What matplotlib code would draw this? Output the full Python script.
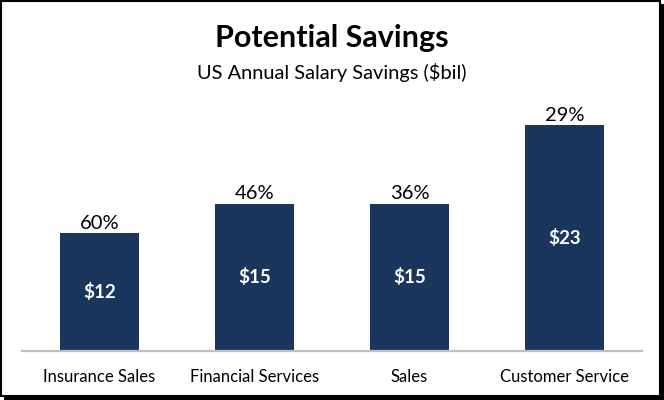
import matplotlib
matplotlib.use("Agg")
import matplotlib.pyplot as plt
from matplotlib.patches import Rectangle

categories = ["Insurance Sales", "Financial Services", "Sales", "Customer Service"]
savings = [12, 15, 15, 23]
pct_labels = ["60%", "46%", "36%", "29%"]
value_labels = ["$12", "$15", "$15", "$23"]

FONT = "Lato"
BAR = "#1B365D"

W, H = 664, 400
fig = plt.figure(figsize=(W / 100, H / 100), dpi=100)
fig.patch.set_facecolor("white")

ax = fig.add_axes([22 / W, (H - 351) / H, 620 / W, 251 / H])
x = list(range(len(categories)))
bars = ax.bar(x, savings, width=0.51, color=BAR, zorder=2)
ax.set_xlim(-0.5, 3.5)
ax.set_ylim(0, 251 / 9.82)

for s in ["top", "right", "left"]:
    ax.spines[s].set_visible(False)
ax.spines["bottom"].set_color("#BFBFBF")
ax.spines["bottom"].set_linewidth(1.6)
ax.set_yticks([])
ax.set_xticks(x)
ax.set_xticklabels(categories, fontfamily=FONT, fontsize=12, color="black")
ax.tick_params(axis="x", length=0, pad=13)

for xi, v, p, vl in zip(x, savings, pct_labels, value_labels):
    ax.annotate(p, (xi, v), xytext=(0, 1), textcoords="offset points",
                ha="center", va="bottom", fontfamily=FONT, fontsize=14.5, color="black")
    ax.text(xi, v / 2, vl, ha="center", va="center", fontfamily=FONT,
            fontsize=13.5, fontweight="bold", color="white")

fig.text(0.5, 1 - 38 / H, "Potential Savings", ha="center", va="center",
         fontfamily=FONT, fontsize=22, fontweight="bold", color="black")
fig.text(0.5, 1 - 72 / H, "US Annual Salary Savings ($bil)", ha="center", va="center",
         fontfamily=FONT, fontsize=14.4, color="black")

# border with shadow
fig.patches.append(Rectangle((1 / W, 4 / H), (W - 5) / W, (H - 5) / H, transform=fig.transFigure,
                             fill=False, edgecolor="black", linewidth=1.5))
fig.patches.append(Rectangle((4 / W, 0), (W - 4) / W, 3 / H, transform=fig.transFigure,
                             facecolor="black", edgecolor="none"))
fig.patches.append(Rectangle(((W - 4) / W, 0), 4 / W, (H - 4) / H, transform=fig.transFigure,
                             facecolor="black", edgecolor="none"))

fig.savefig("out.png", dpi=100)
